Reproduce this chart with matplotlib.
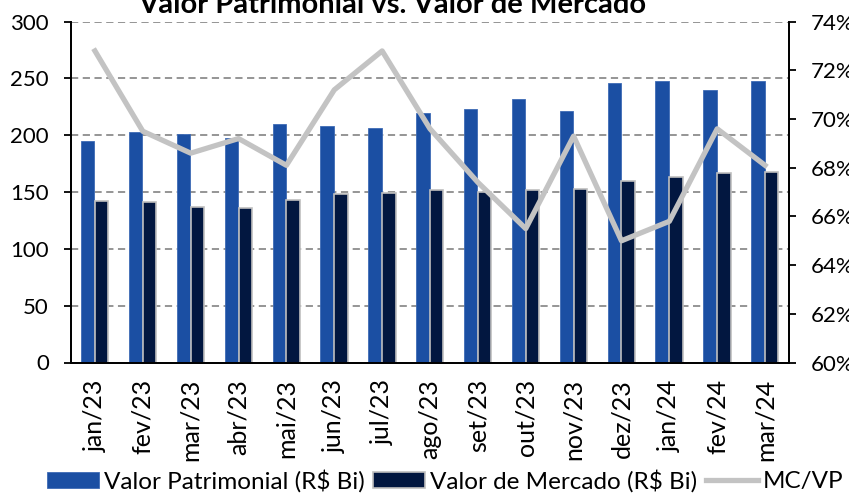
import matplotlib.pyplot as plt
import numpy as np
from matplotlib.ticker import FuncFormatter

plt.rcParams['font.family'] = ['Lato', 'DejaVu Sans']

meses = ['jan/23', 'fev/23', 'mar/23', 'abr/23', 'mai/23', 'jun/23', 'jul/23',
         'ago/23', 'set/23', 'out/23', 'nov/23', 'dez/23', 'jan/24', 'fev/24', 'mar/24']
valor_patrimonial = [195, 203, 201, 198, 210, 208, 206, 220, 223, 232, 221, 246, 248, 240, 248]
valor_mercado = [142, 141, 137, 136, 143, 148, 149, 152, 150, 152, 153, 160, 163, 167, 168]
mc_vp = [72.8, 69.5, 68.6, 69.2, 68.1, 71.2, 72.8, 69.6, 67.4, 65.5, 69.3, 65.0, 65.8, 69.6, 68.1]

azul = '#1B4FA3'
azul_escuro = '#021740'
cinza = '#C3C3C3'

fig = plt.figure(figsize=(8.49, 4.94), dpi=100)
ax = fig.add_axes([71/849, 1 - 362.5/494, 718/849, 340.8/494])
ax2 = ax.twinx()

x = np.arange(len(meses))
w = 0.28
b1 = ax.bar(x - 0.15, valor_patrimonial, w, color=azul, edgecolor='#3E6BB5', linewidth=0.6,
            label='Valor Patrimonial (R$ Bi)', zorder=2)
b2 = ax.bar(x + 0.14, valor_mercado, w, color=azul_escuro, edgecolor='#BFBFBF', linewidth=1.2,
            label='Valor de Mercado (R$ Bi)', zorder=2)
l1, = ax2.plot(x, mc_vp, color=cinza, linewidth=3.8, label='MC/VP', zorder=3)

ax.set_xlim(-0.5, len(meses) - 0.5)
ax.set_ylim(0, 300)
ax.set_yticks(range(0, 301, 50))
ax.yaxis.grid(True, linestyle=(0, (4, 2.5)), color='#8C8C8C', linewidth=1.3, zorder=0)
ax.set_axisbelow(True)
ax2.set_ylim(60, 74)
ax2.set_yticks(range(60, 75, 2))
ax2.yaxis.set_major_formatter(FuncFormatter(lambda v, p: f'{v:.0f}%'))

ax.set_xticks(x)
ax.set_xticklabels(meses, rotation=90, fontsize=18)
ax.tick_params(axis='x', length=0, pad=12)
ax.tick_params(axis='y', labelsize=16, length=5, width=1.3, direction='out', color='black', pad=11)
ax2.tick_params(axis='y', labelsize=16, length=5, width=1.3, direction='out', color='black', pad=11)

for a in (ax, ax2):
    a.spines['top'].set_visible(False)
    a.spines['left'].set_linewidth(1.3)
    a.spines['right'].set_linewidth(1.3)
    a.spines['bottom'].set_linewidth(1.3)

# titulo cortado no topo, como no original
fig.text(392/849, 1 - 13/494, 'Valor Patrimonial vs. Valor de Mercado', ha='center', va='baseline',
         fontsize=21, fontweight='bold')

fig.legend([b1, b2, l1], [b1.get_label(), b2.get_label(), l1.get_label()],
           loc='center', bbox_to_anchor=(445/849, 1 - 481/494), ncol=3, frameon=False,
           fontsize=17.5, handlelength=2.15, handleheight=0.6, handletextpad=0.2,
           columnspacing=0.35, borderaxespad=0, borderpad=0)

fig.savefig('out.png', dpi=100)
